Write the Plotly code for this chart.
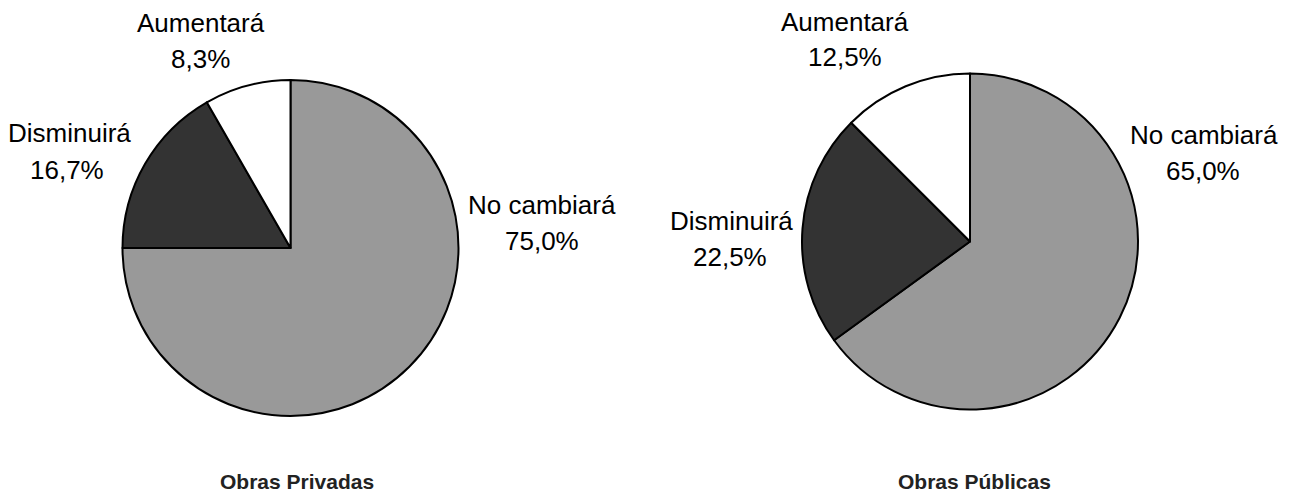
import plotly.graph_objects as go

categories = ["No cambiará", "Disminuirá", "Aumentará"]
privadas = [75.0, 16.7, 8.3]
publicas = [65.0, 22.5, 12.5]
titles = ["Obras Privadas", "Obras Públicas"]
colors = ["#999999", "#333333", "#ffffff"]

W, H = 1292, 493
FONT = "Liberation Sans, Arial, sans-serif"

def px_x(x):
    return x / W

def px_y(y):
    return 1 - y / H

fig = go.Figure()

pies = [
    dict(vals=privadas, cx=290.5, cy=248, r=168),
    dict(vals=publicas, cx=970, cy=241.5, r=168),
]
for p in pies:
    fig.add_trace(go.Pie(
        labels=categories, values=p["vals"], sort=False, direction="clockwise",
        rotation=0, textinfo="none", showlegend=False,
        marker=dict(colors=colors, line=dict(color="#000000", width=2)),
        domain=dict(x=[px_x(p["cx"] - p["r"]), px_x(p["cx"] + p["r"])],
                    y=[px_y(p["cy"] + p["r"]), px_y(p["cy"] - p["r"])]),
    ))

# label placement (pixel centers) per pie, per category: (x_name, y_name, x_pct, y_pct)
label_pos = [
    [(542, 205, 542, 241), (69, 133, 67, 170), (201, 23, 200, 59)],
    [(1204, 135, 1203, 171), (731, 221, 730, 257), (845, 22, 845, 57)],
]
annotations = []
for vals, pos in zip([privadas, publicas], label_pos):
    for cat, v, (x1, y1, x2, y2) in zip(categories, vals, pos):
        for txt, x, y in [(cat, x1, y1), (f"{v:.1f}".replace(".", ",") + "%", x2, y2)]:
            annotations.append(dict(
                text=txt, x=px_x(x), y=px_y(y), xref="paper", yref="paper",
                xanchor="center", yanchor="middle", showarrow=False,
                font=dict(family=FONT, size=26, color="#000000")))

for t, x in zip(titles, [297, 974]):
    annotations.append(dict(
        text=f"<b>{t}</b>", x=px_x(x), y=px_y(481), xref="paper", yref="paper",
        xanchor="center", yanchor="middle", showarrow=False,
        font=dict(family=FONT, size=21, color="#222222")))

fig.update_layout(
    width=W, height=H, margin=dict(l=0, r=0, t=0, b=0),
    paper_bgcolor="#ffffff", plot_bgcolor="#ffffff",
    annotations=annotations, font=dict(family=FONT),
)

fig.write_html("out.html", config={"displayModeBar": False},
               post_script="document.body.style.margin='0px';document.body.style.overflow='hidden';")
